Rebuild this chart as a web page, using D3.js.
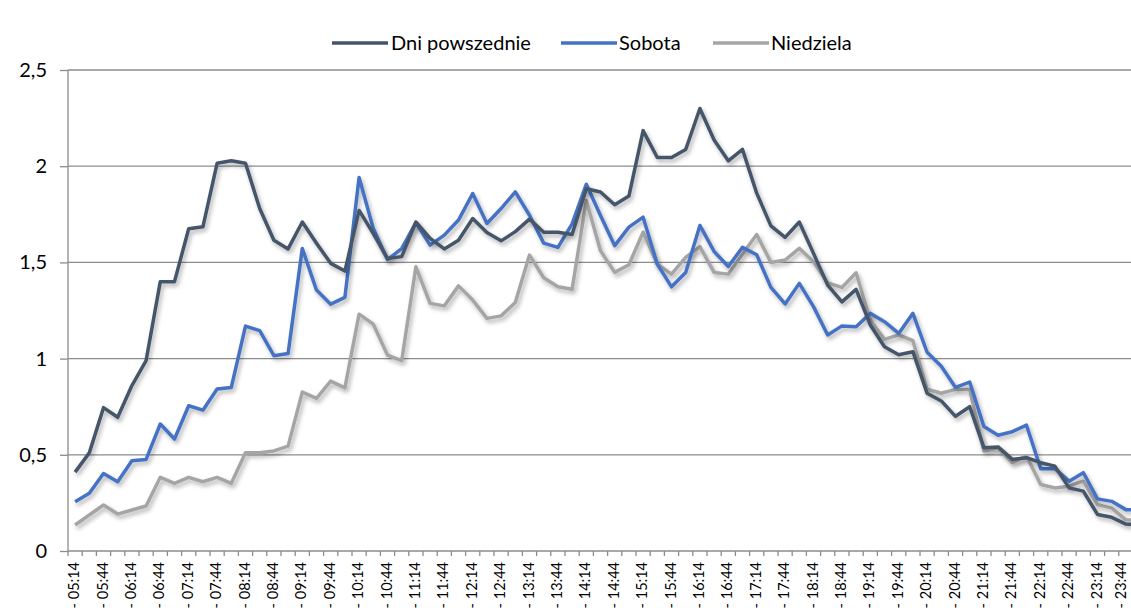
<!DOCTYPE html>
<html>
<head>
<meta charset="utf-8">
<script src="https://cdn.jsdelivr.net/npm/d3@7"></script>
<style>
  html, body { margin: 0; padding: 0; background: #fff; overflow: hidden; }
  svg { display: block; }
</style>
</head>
<body>
<svg id="chart" width="1131" height="611"></svg>
<script>
const categories = [
  "- 05:14","- 05:29","- 05:44","- 05:59","- 06:14","- 06:29","- 06:44","- 06:59",
  "- 07:14","- 07:29","- 07:44","- 07:59","- 08:14","- 08:29","- 08:44","- 08:59",
  "- 09:14","- 09:29","- 09:44","- 09:59","- 10:14","- 10:29","- 10:44","- 10:59",
  "- 11:14","- 11:29","- 11:44","- 11:59","- 12:14","- 12:29","- 12:44","- 12:59",
  "- 13:14","- 13:29","- 13:44","- 13:59","- 14:14","- 14:29","- 14:44","- 14:59",
  "- 15:14","- 15:29","- 15:44","- 15:59","- 16:14","- 16:29","- 16:44","- 16:59",
  "- 17:14","- 17:29","- 17:44","- 17:59","- 18:14","- 18:29","- 18:44","- 18:59",
  "- 19:14","- 19:29","- 19:44","- 19:59","- 20:14","- 20:29","- 20:44","- 20:59",
  "- 21:14","- 21:29","- 21:44","- 21:59","- 22:14","- 22:29","- 22:44","- 22:59",
  "- 23:14","- 23:29","- 23:44","- 23:59"
];

const dniPowszednie = [
  0.41,0.51,0.745,0.695,0.86,0.99,1.40,1.40,
  1.675,1.685,2.015,2.028,2.015,1.78,1.615,1.57,
  1.71,1.60,1.495,1.455,1.77,1.65,1.52,1.53,
  1.71,1.625,1.57,1.615,1.728,1.655,1.612,1.66,
  1.725,1.657,1.657,1.645,1.883,1.866,1.80,1.845,
  2.185,2.045,2.045,2.087,2.30,2.136,2.028,2.087,
  1.86,1.69,1.63,1.71,1.547,1.382,1.295,1.36,
  1.175,1.062,1.02,1.036,0.82,0.78,0.70,0.75,
  0.537,0.541,0.476,0.485,0.459,0.441,0.328,0.311,
  0.19,0.175,0.14,0.135
];

const sobota = [
  0.256,0.30,0.403,0.36,0.469,0.476,0.66,0.582,
  0.755,0.732,0.842,0.85,1.169,1.145,1.015,1.027,
  1.572,1.356,1.283,1.318,1.941,1.676,1.515,1.572,
  1.707,1.59,1.642,1.72,1.858,1.702,1.78,1.867,
  1.745,1.60,1.578,1.70,1.906,1.744,1.587,1.683,
  1.735,1.491,1.373,1.448,1.692,1.557,1.479,1.578,
  1.54,1.37,1.284,1.391,1.27,1.123,1.17,1.166,
  1.235,1.192,1.131,1.235,1.033,0.96,0.85,0.878,
  0.647,0.602,0.62,0.654,0.428,0.428,0.363,0.407,
  0.271,0.258,0.215,0.215
];

const niedziela = [
  0.135,0.187,0.239,0.192,0.213,0.234,0.383,0.352,
  0.383,0.36,0.383,0.352,0.511,0.511,0.52,0.545,
  0.826,0.793,0.883,0.848,1.231,1.179,1.018,0.989,
  1.477,1.287,1.274,1.378,1.304,1.209,1.222,1.292,
  1.538,1.42,1.373,1.36,1.822,1.561,1.448,1.488,
  1.657,1.491,1.439,1.526,1.582,1.448,1.439,1.544,
  1.645,1.50,1.512,1.573,1.503,1.394,1.37,1.446,
  1.20,1.10,1.123,1.093,0.841,0.82,0.84,0.839,
  0.52,0.537,0.459,0.494,0.346,0.328,0.337,0.363,
  0.241,0.223,0.162,0.16
];

const yTicks = [0, 0.5, 1, 1.5, 2, 2.5];
const yTickLabels = ["0", "0,5", "1", "1,5", "2", "2,5"];

const seriesNames = ["Dni powszednie", "Sobota", "Niedziela"];
const seriesColors = ["#44546A", "#4472C4", "#A5A5A5"];
const seriesValues = [dniPowszednie, sobota, niedziela];

const svg = d3.select("#chart");
const font = "Lato, 'Open Sans', sans-serif";

const plotLeft = 68, plotBottom = 551, plotTop = 70;
const step = 14.2;
const x = d3.scaleBand()
  .domain(categories)
  .range([plotLeft, plotLeft + step * categories.length])
  .paddingInner(0).paddingOuter(0);
const y = d3.scaleLinear().domain([0, 2.5]).range([plotBottom, plotTop]);

// shadow filter
const defs = svg.append("defs");
const f = defs.append("filter").attr("id", "shadow")
  .attr("x", "-5%").attr("y", "-5%").attr("width", "110%").attr("height", "120%");
f.append("feDropShadow").attr("dx", 2).attr("dy", 3).attr("stdDeviation", 2)
  .attr("flood-color", "#000").attr("flood-opacity", 0.3);

// gridlines
svg.append("g")
  .selectAll("line").data(yTicks.filter(d => d > 0)).join("line")
  .attr("x1", plotLeft).attr("x2", 1131)
  .attr("y1", d => y(d)).attr("y2", d => y(d))
  .attr("stroke", "#8c8c8c").attr("stroke-width", 1.3);

// y axis
const yAxis = d3.axisLeft(y).tickValues(yTicks)
  .tickFormat((d, i) => yTickLabels[i]).tickSize(8).tickPadding(13);
const gy = svg.append("g").attr("transform", `translate(${plotLeft},0)`).call(yAxis);
gy.select(".domain").attr("stroke", "#8c8c8c").attr("stroke-width", 1.3)
  .attr("d", `M0,${plotTop}V${plotBottom}`);
gy.selectAll(".tick line").attr("stroke", "#8c8c8c").attr("stroke-width", 1.3);
gy.selectAll(".tick text").attr("font-family", font).attr("font-size", 20)
  .attr("fill", "#000");

// x axis
const xAxis = d3.axisBottom(x).tickSize(0)
  .tickFormat((d, i) => i % 2 === 0 ? d : "");
const gx = svg.append("g").attr("transform", `translate(0,${plotBottom})`).call(xAxis);
gx.select(".domain").attr("stroke", "#8c8c8c").attr("stroke-width", 1.3)
  .attr("d", `M${plotLeft},0H1131`);
gx.selectAll(".tick text")
  .attr("font-family", font).attr("font-size", 14.5).attr("fill", "#000")
  .attr("text-anchor", "end")
  .attr("transform", "rotate(-90)")
  .attr("x", -11).attr("y", 0)
  .attr("dy", d => (x(d) + x.bandwidth() / 2 > 1120 ? "0.02em" : "0.28em"));
// category boundary ticks
svg.append("g").selectAll("line")
  .data(categories).join("line")
  .attr("x1", d => x(d)).attr("x2", d => x(d))
  .attr("y1", plotBottom).attr("y2", plotBottom + 5)
  .attr("stroke", "#8c8c8c").attr("stroke-width", 1.3);

// lines
const line = d3.line()
  .x((d, i) => x(categories[i]) + x.bandwidth() / 2)
  .y(d => y(d));

const gl = svg.append("g");
seriesValues.slice().reverse().forEach((vals, ri) => {
  const idx = seriesValues.length - 1 - ri;
  gl.append("path")
    .attr("d", line(vals))
    .attr("fill", "none")
    .attr("stroke", seriesColors[idx])
    .attr("stroke-width", 3.5)
    .attr("stroke-linejoin", "round")
    .attr("filter", "url(#shadow)");
});

// legend
const legendItems = [
  { x0: 332, tx: 391 },
  { x0: 561, tx: 619 },
  { x0: 713, tx: 771 }
];
const lg = svg.append("g");
seriesNames.forEach((name, i) => {
  const it = legendItems[i];
  lg.append("line")
    .attr("x1", it.x0).attr("x2", it.x0 + 56)
    .attr("y1", 43).attr("y2", 43)
    .attr("stroke", seriesColors[i]).attr("stroke-width", 3.5);
  lg.append("text")
    .attr("x", it.tx).attr("y", 43).attr("dy", "0.35em")
    .attr("font-family", font).attr("font-size", 20)
    .attr("fill", "#000")
    .text(name);
});
</script>
</body>
</html>
